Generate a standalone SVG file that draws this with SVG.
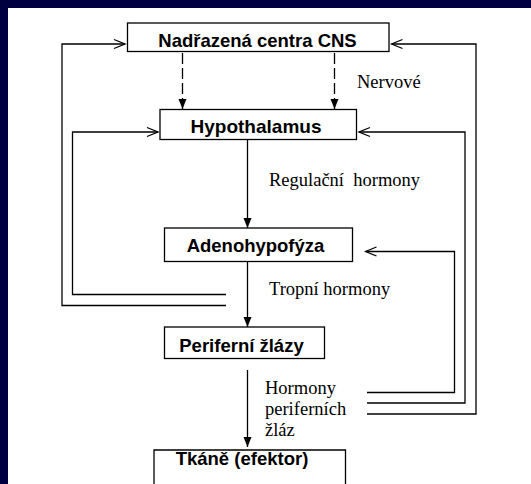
<svg xmlns="http://www.w3.org/2000/svg" width="531" height="484" viewBox="0 0 531 484">
<style>
.box{fill:#fff;stroke:#000;stroke-width:1.3}
.bt{font-family:"Liberation Sans",Arial,sans-serif;font-weight:bold;font-size:18.5px;fill:#000;text-anchor:middle}
.lt{font-family:"Liberation Serif","Times New Roman",serif;font-size:18.5px;fill:#000;white-space:pre}
.ln{fill:none;stroke:#000;stroke-width:1.3}
.dash{stroke-dasharray:11 4}
.fb{marker-end:url(#open)}
.dn{marker-end:url(#solid)}
</style>
<defs>
<marker id="open" markerUnits="userSpaceOnUse" markerWidth="14" markerHeight="12" refX="12" refY="5" orient="auto" viewBox="0 0 14 10">
<path d="M1,0.5 L12,5 L1,9.5" fill="none" stroke="#000" stroke-width="1.3"/>
</marker>
<marker id="solid" markerUnits="userSpaceOnUse" markerWidth="11" markerHeight="9" refX="10" refY="4" orient="auto" viewBox="0 0 11 8">
<path d="M0,0 L10,4 L0,8 Z" fill="#000"/>
</marker>
</defs>
<rect x="0" y="0" width="531" height="484" fill="#000040"/>
<rect x="8" y="8" width="523" height="476" fill="#fff"/>
<g id="connectors">
<line class="ln dash dn" x1="182.5" y1="53" x2="182.5" y2="109"/>
<line class="ln dash dn" x1="334.5" y1="53" x2="334.5" y2="109"/>
<line class="ln dn" x1="247.5" y1="140" x2="247.5" y2="228"/>
<line class="ln" x1="247.5" y1="262" x2="247.5" y2="318"/>
<line class="ln dn" x1="247.5" y1="318" x2="247.5" y2="327"/>
<line class="ln dn" x1="247.5" y1="370" x2="247.5" y2="447"/>
<polyline class="ln fb" points="226,305.5 62,305.5 62,44 125,44"/>
<polyline class="ln fb" points="226,294.5 72.5,294.5 72.5,132 158,132"/>
<polyline class="ln fb" points="367,414 476,414 476,44 391.5,44"/>
<polyline class="ln fb" points="367,403 465,403 465,132 359,132"/>
<polyline class="ln fb" points="367,392.5 454.5,392.5 454.5,251.5 365.5,251.5"/>
</g>
<g id="n-cns">
<rect class="box" x="127.5" y="23" width="261.5" height="28.5"/>
<text class="bt" x="257.5" y="46.5">Nadřazená centra CNS</text>
</g>
<g id="n-hypothalamus">
<rect class="box" x="160" y="109.5" width="196.5" height="30"/>
<text class="bt" x="256" y="132.5" style="font-size:19px">Hypothalamus</text>
</g>
<g id="n-adeno">
<rect class="box" x="164.5" y="228" width="188" height="33.5"/>
<text class="bt" x="255.5" y="251.5">Adenohypofýza</text>
</g>
<g id="n-periferni">
<rect class="box" x="164.5" y="327" width="160" height="31.5"/>
<text class="bt" x="241.5" y="351.5">Periferní žlázy</text>
</g>
<g id="n-tkane">
<path class="box" d="M154,484 V450 H345.5 V484"/>
<text class="bt" x="242" y="465">Tkáně (efektor)</text>
</g>
<g id="labels">
<text class="lt" x="357" y="88">Nervové</text>
<text class="lt" x="269" y="186">Regulační  hormony</text>
<text class="lt" x="269" y="295">Tropní hormony</text>
<text class="lt" x="265" y="393.5">Hormony</text>
<text class="lt" x="265" y="415">periferních</text>
<text class="lt" x="265" y="435.5">žláz</text>
</g>
</svg>
